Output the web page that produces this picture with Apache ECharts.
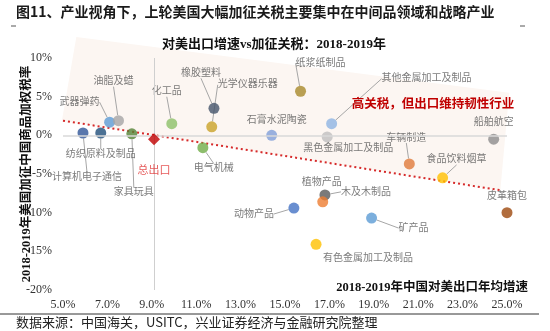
<!DOCTYPE html>
<html><head><meta charset="utf-8">
<script src="https://cdn.jsdelivr.net/npm/echarts@6/dist/echarts.min.js"></script>
<style>html,body{margin:0;padding:0;background:#fff}#c{width:550px;height:331px}</style>
</head><body><div id="c"></div>
<script>
// ---------- data ----------
const categories = ['计算机电子通信','纺织原料及制品','家具玩具','武器弹药','油脂及蜡','化工品','橡胶塑料','光学仪器乐器','电气机械','石膏水泥陶瓷','纸浆纸制品','其他金属加工及制品','黑色金属加工及制品','船舶航空','车辆制造','食品饮料烟草','皮革箱包','木及木制品','植物产品','动物产品','矿产品','有色金属加工及制品'];
const exportGrowth = [5.9, 6.7, 8.1, 7.1, 7.5, 9.9, 11.8, 11.7, 11.3, 14.4, 15.7, 17.1, 16.9, 24.4, 20.6, 22.1, 25.0, 16.8, 16.7, 15.4, 18.9, 16.4];
const tariffRate   = [0.3, 0.3, 0.2, 1.7, 1.9, 1.5, 3.5, 1.1, -1.6, 0.0, 5.7, 1.5, -0.2, -0.5, -3.7, -5.5, -10.0, -7.7, -8.6, -9.4, -10.7, -14.1];
const totalName = '总出口';
const totalExport = [9.1, -0.5];
const trendX = [5.0, 24.7];
const trendY = [1.9, -7.1];
const shadeX = [5.6, 25.1, 24.7, 4.95];
const shadeY = [12.7, 5.5, -7.1, 1.9];
const xTickMin = 5, xTickMax = 25, xTickStep = 2;
const yTickMin = -20, yTickMax = 10, yTickStep = 5;

// ---------- styles ----------
const pointColors = ['#2f5597','#1f4e79','#548235','#5b9bd5','#a5a5a5','#8cc068','#44546a','#c9a227','#70ad47','#7f9fd8','#a88a2a','#8db4e2','#bfbfbf','#8c8c8c','#e07b39','#ffc000','#9e480e','#595959','#ed7d31','#4472c4','#5b9bd5','#ffc000'];
// label offsets [dx, dy, leader]
const labelOffsets = {
  '计算机电子通信':[4,44,true],'纺织原料及制品':[0,21,true],'家具玩具':[2,59,true],'武器弹药':[-30,-20,true],
  '油脂及蜡':[-5,-39,true],'化工品':[-5,-32,true],'橡胶塑料':[-13,-35,true],'光学仪器乐器':[36,-42,true],
  '电气机械':[11,21,true],'石膏水泥陶瓷':[5,-15,false],'纸浆纸制品':[20,-28,true],'其他金属加工及制品':[95,-45,true],
  '黑色金属加工及制品':[21,11,false],'船舶航空':[0,-17,false],'车辆制造':[-3,-26,true],'食品饮料烟草':[14,-18,true],
  '皮革箱包':[0,-16,false],'木及木制品':[41,-3,true],'植物产品':[-1,-19,false],'动物产品':[-40,6,true],
  '矿产品':[42,10,true],'有色金属加工及制品':[52,14,false]
};
const serif = "'Liberation Serif','Noto Sans CJK SC'";
const sans = "'Noto Sans CJK SC','Liberation Sans'";

const chart = echarts.init(document.getElementById('c'), null, {renderer:'canvas'});

const pointData = categories.map((n,i)=>({
  name:n, value:[exportGrowth[i], tariffRate[i]],
  itemStyle:{color:pointColors[i]},
  labelLine:{show: labelOffsets[n][2]}
}));

chart.setOption({
  animation:false,
  grid:{left:63, right:43, top:58, bottom:41},
  xAxis:{type:'value', min:xTickMin, max:xTickMax, interval:xTickStep,
    axisLine:{show:false}, axisTick:{show:false}, splitLine:{show:false},
    axisLabel:{margin:9, color:'#333', fontFamily:serif, fontSize:12, formatter:v=>v.toFixed(1)+'%'}},
  yAxis:{type:'value', min:yTickMin, max:yTickMax, interval:yTickStep,
    axisLine:{show:false}, axisTick:{show:false}, splitLine:{show:false},
    axisLabel:{margin:11, color:'#333', fontFamily:serif, fontSize:12, formatter:v=>v+'%'}},
  series:[
    {type:'custom', z:0, silent:true, clip:false, data:[0],
      renderItem:(params, api)=>({type:'polygon', shape:{points: shadeX.map((x,i)=>api.coord([x, shadeY[i]]))},
        style:{fill:'#fcf6f2'}})},
    {type:'line', z:1, silent:true, symbol:'none', data: trendX.map((x,i)=>[x, trendY[i]]),
      lineStyle:{color:'#d62a2a', width:2, type:[2,3]},
      markLine:{silent:true, symbol:'none', label:{show:false},
        data:[{yAxis:0, lineStyle:{color:'#d9d9d9', width:1.5, type:'solid'}},
              {xAxis:totalExport[0], lineStyle:{color:'#cfcfcf', width:1, type:'solid'}}]}},
    {type:'scatter', z:3, symbolSize:11, data:pointData,
      label:{show:true, position:'inside', formatter:'{b}', color:'#595959', fontFamily:serif, fontSize:10},
      labelLine:{show:true, lineStyle:{color:'#a6a6a6', width:1}},
      labelLayout:(p)=>{const o = labelOffsets[categories[p.dataIndex]]; return {dx:o[0], dy:o[1]};}},
    {type:'scatter', z:5, symbol:'diamond', symbolSize:12, data:[{name:totalName, value:totalExport}],
      itemStyle:{color:'#c00000'},
      label:{show:true, position:'inside', formatter:'{b}', color:'#e03030', fontFamily:sans, fontSize:11},
      labelLayout:{dy:31}}
  ],
  graphic:[
    {type:'text', z:100, left:16, top:5, style:{text:'图11、产业视角下，上轮美国大幅加征关税主要集中在中间品领域和战略产业', font:"bold 14px "+sans, fill:'#1a1a1a'}},
    {type:'line', z:100, shape:{x1:11,y1:26,x2:16,y2:26}, style:{stroke:'#555', lineWidth:1}},
    {type:'line', z:100, shape:{x1:520,y1:26,x2:525,y2:26}, style:{stroke:'#555', lineWidth:1}},
    {type:'text', z:100, x:274, y:45, style:{text:'对美出口增速vs加征关税：2018-2019年', font:"bold 13px "+serif, fill:'#111', textAlign:'center', textVerticalAlign:'middle'}},
    {type:'text', z:100, x:433, y:103, style:{text:'高关税，但出口维持韧性行业', font:"bold 12.5px "+sans, fill:'#c00000', textAlign:'center', textVerticalAlign:'middle'}},
    {type:'text', z:100, x:528, y:288, style:{text:'2018-2019年中国对美出口年均增速', font:"bold 12.5px "+serif, fill:'#111', textAlign:'right', textVerticalAlign:'middle'}},
    {type:'text', z:100, x:27, y:174, rotation:Math.PI/2, style:{text:'2018-2019年美国加征中国商品加权税率', font:"bold 12.5px "+serif, fill:'#111', textAlign:'center', textVerticalAlign:'middle'}},
    {type:'line', z:100, shape:{x1:0,y1:314,x2:539,y2:314}, style:{stroke:'#333', lineWidth:1}},
    {type:'text', z:100, left:16, top:316, style:{text:'数据来源：中国海关，USITC，兴业证券经济与金融研究院整理', font:"13px "+sans, fill:'#222'}}
  ]
});
</script></body></html>
